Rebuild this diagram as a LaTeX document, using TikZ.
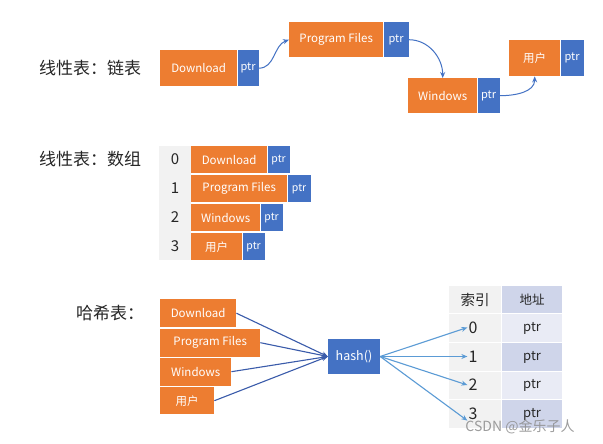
\documentclass[tikz,border=0pt]{standalone}
\usepackage{fontspec}
\setmainfont{Noto Sans CJK SC}
\usetikzlibrary{arrows.meta}
\definecolor{orng}{HTML}{ED7D31}
\definecolor{blu}{HTML}{4472C4}
\definecolor{dblu}{HTML}{3A5BAA}
\definecolor{lblu}{HTML}{5B9BD5}
\definecolor{gcol}{HTML}{F2F2F2}
\definecolor{lav}{HTML}{CFD5EA}
\definecolor{lav2}{HTML}{E9EBF5}
\tikzset{
  ob/.style={fill=orng, text=white, inner sep=0pt, anchor=north west, font=\fontsize{11.5}{12}\selectfont},
  pb/.style={fill=blu, text=white, inner sep=0pt, anchor=north west, font=\fontsize{11}{12}\selectfont},
  lbl/.style={text=black!85, inner sep=0pt, font=\fontsize{17}{18}\selectfont},
  idx/.style={text=black!85, inner sep=1pt, font=\fontsize{15}{16}\selectfont},
  arr/.style={draw=blu, line width=1pt, -{Stealth[length=6pt,width=5pt]}},
  darr/.style={draw=dblu, line width=1.1pt, -{Stealth[length=6pt,width=5pt]}},
  larr/.style={draw=lblu, line width=1.1pt, -{Stealth[length=6pt,width=5pt]}},
  cell/.style={draw=white, line width=1.2pt, inner sep=0pt, anchor=north west, text=black!85},
}
\begin{document}
\begin{tikzpicture}[x=1pt,y=-1pt]
\useasboundingbox (0,0) rectangle (603,444);
\fill[white] (0,0) rectangle (603,444);

% ---------- linked list ----------
\node[lbl] (l1) at (90,68) {线性表：链表};
\node[ob, minimum width=77pt, minimum height=36pt] (a1) at (160,50) {Download};
\node[pb, minimum width=21pt, minimum height=36pt] (a1p) at (a1.north east) {ptr};
\node[ob, minimum width=94pt, minimum height=35pt] (a2) at (289,22) {Program Files};
\node[pb, minimum width=25pt, minimum height=35pt] (a2p) at (a2.north east) {ptr};
\node[ob, minimum width=69pt, minimum height=35pt] (a3) at (408,78) {Windows};
\node[pb, minimum width=22pt, minimum height=35pt] (a3p) at (a3.north east) {ptr};
\node[ob, minimum width=51pt, minimum height=36pt] (a4) at (509,40) {用户};
\node[pb, minimum width=23pt, minimum height=36pt] (a4p) at (a4.north east) {ptr};
\draw[arr] (a1p.east) to[out=0, in=200] (a2.west);
\draw[arr] (a2p.east) to[out=0, in=90] (a3.north);
\draw[arr] (a3p.east) to[out=0, in=-90] (a4.south);

% ---------- array ----------
\node[lbl] (l2) at (90,159) {线性表：数组};
\fill[gcol] (159,146) rectangle (191,260);
\node[ob, minimum width=76pt, minimum height=27pt] (b0) at (191,146) {Download};
\node[pb, minimum width=22pt, minimum height=27pt, font=\fontsize{10.5}{12}\selectfont] (b0p) at (b0.north east) {ptr};
\node[ob, minimum width=96pt, minimum height=27pt] (b1) at (191,175) {Program Files};
\node[pb, minimum width=23pt, minimum height=27pt, font=\fontsize{10.5}{12}\selectfont] (b1p) at (b1.north east) {ptr};
\node[ob, minimum width=69pt, minimum height=27pt] (b2) at (191,204) {Windows};
\node[pb, minimum width=22pt, minimum height=27pt, font=\fontsize{10.5}{12}\selectfont] (b2p) at (b2.north east) {ptr};
\node[ob, minimum width=51pt, minimum height=27pt] (b3) at (191,233) {用户};
\node[pb, minimum width=22pt, minimum height=27pt, font=\fontsize{10.5}{12}\selectfont] (b3p) at (b3.north east) {ptr};
\node[idx] (i0) at (175,159.5) {0};
\node[idx] (i1) at (175,188.5) {1};
\node[idx] (i2) at (175,217.5) {2};
\node[idx] (i3) at (175,246.5) {3};

% ---------- hash table ----------
\node[lbl] (l3) at (110,313) {哈希表：};
\node[ob, minimum width=76pt, minimum height=28pt] (h0) at (160,299) {Download};
\node[ob, minimum width=100pt, minimum height=28pt] (h1) at (160,328.5) {Program Files};
\node[ob, minimum width=71pt, minimum height=28pt] (h2) at (160,357.5) {Windows};
\node[ob, minimum width=54pt, minimum height=27pt] (h3) at (160,387) {用户};
\node[fill=blu, text=white, inner sep=0pt, minimum width=52pt, minimum height=35pt, font=\fontsize{12.5}{13}\selectfont] (hash) at (354,356.5) {hash()};

% table
\node[cell, fill=gcol, minimum width=53pt, minimum height=28pt, font=\fontsize{14.5}{15}\selectfont] (th1) at (448,285) {索引};
\node[cell, fill=lav, minimum width=61pt, minimum height=28pt, font=\fontsize{12.5}{13}\selectfont] (th2) at (501,285) {地址};
\node[cell, fill=gcol, minimum width=53pt, minimum height=29pt] (c0) at (448,313) {};
\node[cell, fill=lav2, minimum width=61pt, minimum height=29pt, font=\fontsize{13}{14}\selectfont] (p0) at (501,313) {ptr};
\node[cell, fill=gcol, minimum width=53pt, minimum height=29pt] (c1) at (448,342) {};
\node[cell, fill=lav, minimum width=61pt, minimum height=29pt, font=\fontsize{13}{14}\selectfont] (p1) at (501,342) {ptr};
\node[cell, fill=gcol, minimum width=53pt, minimum height=28pt] (c2) at (448,371) {};
\node[cell, fill=lav2, minimum width=61pt, minimum height=28pt, font=\fontsize{13}{14}\selectfont] (p2) at (501,371) {ptr};
\node[cell, fill=gcol, minimum width=53pt, minimum height=29pt] (c3) at (448,399) {};
\node[cell, fill=lav, minimum width=61pt, minimum height=29pt, font=\fontsize{13}{14}\selectfont] (p3) at (501,399) {ptr};
\node[idx, font=\fontsize{16}{17}\selectfont] (n0) at (473,327.5) {0};
\node[idx, font=\fontsize{16}{17}\selectfont] (n1) at (473,356.5) {1};
\node[idx, font=\fontsize{16}{17}\selectfont] (n2) at (473,385) {2};
\node[idx, font=\fontsize{16}{17}\selectfont] (n3) at (473,413.5) {3};

\draw[darr] (h0.east) -- (hash.west);
\draw[darr] (h1.east) -- (hash.west);
\draw[darr] (h2.east) -- (hash.west);
\draw[darr] (h3.east) -- (hash.west);
\draw[larr] (hash.east) -- (n0.west);
\draw[larr] (hash.east) -- (n1.west);
\draw[larr] (hash.east) -- (n2.west);
\draw[larr] (hash.east) -- (n3.south west);

% watermark
\node[text=black!45, opacity=0.85, inner sep=0pt, font=\fontsize{14}{15}\selectfont] (wm) at (520,427) {CSDN @金乐子人};
\end{tikzpicture}
\end{document}
